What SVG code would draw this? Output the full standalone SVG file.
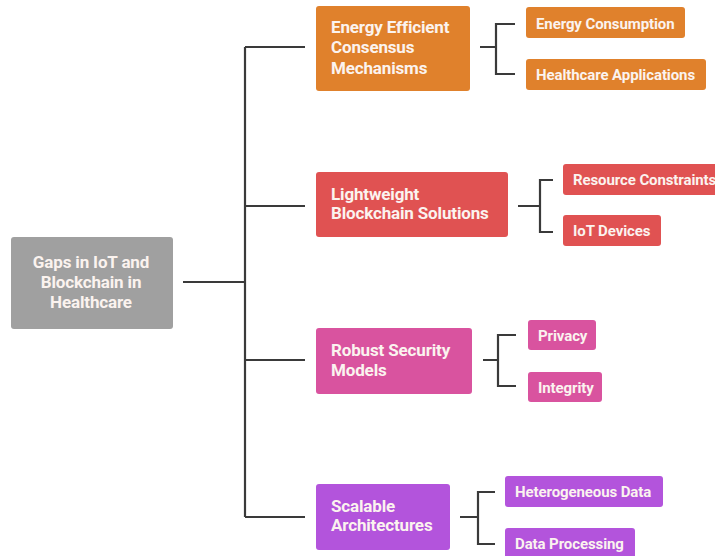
<svg xmlns="http://www.w3.org/2000/svg" width="715" height="556" viewBox="0 0 715 556">
<style>
text{font-family:Roboto,"Liberation Sans",sans-serif;font-weight:bold;fill:#fbf3ef}
.m{font-size:17px;letter-spacing:-0.15px}
.c{font-size:15px;letter-spacing:-0.1px}
.ln{fill:none;stroke:#3a3a3a;stroke-width:2.2}
</style>
<rect width="715" height="556" fill="#fff"/>
<g id="connectors">
<path class="ln" d="M183 282H245M245 47V517M245 47H305M245 206H305M245 360H305M245 517H305"/>
<path class="ln" d="M480 47H496M515 24H496V74H515"/>
<path class="ln" d="M518 206H540M553 180H540V232H553"/>
<path class="ln" d="M483 360H498M516 335H498V386H516"/>
<path class="ln" d="M460 517H478M495 492H478V544H495"/>
</g>
<g id="root">
<rect x="11" y="237" width="162" height="92" rx="3" fill="#a0a0a0"/>
<text class="m" text-anchor="middle"><tspan x="91" y="268">Gaps in IoT and</tspan><tspan x="91" y="288">Blockchain in</tspan><tspan x="91" y="308">Healthcare</tspan></text>
</g>
<g id="n1">
<rect x="316" y="6" width="154" height="85" rx="3" fill="#e0812c"/>
<text class="m"><tspan x="331" y="33">Energy Efficient</tspan><tspan x="331" y="53">Consensus</tspan><tspan x="331" y="74">Mechanisms</tspan></text>
</g>
<g id="n1a">
<rect x="526" y="7" width="159" height="31" rx="3" fill="#e0812c"/>
<text class="c" x="536" y="29">Energy Consumption</text>
</g>
<g id="n1b">
<rect x="526" y="59" width="180" height="31" rx="3" fill="#e0812c"/>
<text class="c" x="536" y="80">Healthcare Applications</text>
</g>
<g id="n2">
<rect x="316" y="172" width="192" height="65" rx="3" fill="#e05252"/>
<text class="m"><tspan x="331" y="200">Lightweight</tspan><tspan x="331" y="219">Blockchain Solutions</tspan></text>
</g>
<g id="n2a">
<rect x="563" y="164" width="160" height="31" rx="3" fill="#e05252"/>
<text class="c" x="573" y="185">Resource Constraints</text>
</g>
<g id="n2b">
<rect x="563" y="215" width="98" height="31" rx="3" fill="#e05252"/>
<text class="c" x="573" y="236">IoT Devices</text>
</g>
<g id="n3">
<rect x="316" y="328" width="156" height="66" rx="3" fill="#d9539f"/>
<text class="m"><tspan x="331" y="356">Robust Security</tspan><tspan x="331" y="376">Models</tspan></text>
</g>
<g id="n3a">
<rect x="528" y="320" width="68" height="30" rx="3" fill="#d9539f"/>
<text class="c" x="538" y="341">Privacy</text>
</g>
<g id="n3b">
<rect x="528" y="372" width="74" height="30" rx="3" fill="#d9539f"/>
<text class="c" x="538" y="393">Integrity</text>
</g>
<g id="n4">
<rect x="316" y="484" width="134" height="66" rx="3" fill="#b354dc"/>
<text class="m"><tspan x="331" y="512">Scalable</tspan><tspan x="331" y="531">Architectures</tspan></text>
</g>
<g id="n4a">
<rect x="505" y="476" width="158" height="31" rx="3" fill="#b354dc"/>
<text class="c" x="515" y="497">Heterogeneous Data</text>
</g>
<g id="n4b">
<rect x="505" y="528" width="130" height="30" rx="3" fill="#b354dc"/>
<text class="c" x="515" y="549">Data Processing</text>
</g>
</svg>
